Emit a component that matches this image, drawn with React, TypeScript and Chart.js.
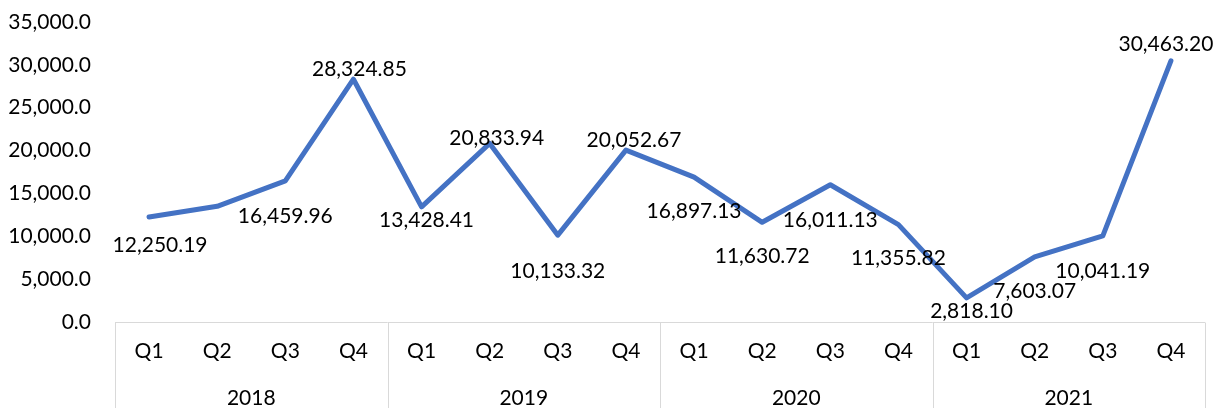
import React, { useEffect, useRef } from "react";
import { Chart, registerables } from "chart.js";

Chart.register(...registerables);

const QUARTERS = ["Q1", "Q2", "Q3", "Q4", "Q1", "Q2", "Q3", "Q4", "Q1", "Q2", "Q3", "Q4", "Q1", "Q2", "Q3", "Q4"];
const YEARS = ["2018", "2019", "2020", "2021"];
const VALUES = [
  12250.19, 13500, 16459.96, 28324.85,
  13428.41, 20833.94, 10133.32, 20052.67,
  16897.13, 11630.72, 16011.13, 11355.82,
  2818.1, 7603.07, 10041.19, 30463.2,
];
const SHOW_LABEL = [true, false, true, true, true, true, true, true, true, true, true, true, true, true, true, true];
const Y_TICKS_MAX = 35000;
const Y_TICKS_STEP = 5000;

// label placement (style): [dx, dy] relative to each point
const LABEL_OFFSETS: [number, number][] = [
  [11, 28], [0, 0], [0, 35], [6, -10],
  [5, 13], [7, -5], [0, 36], [8, -10],
  [0, 34], [0, 34], [0, 35], [0, 34],
  [5, 13], [0, 34], [0, 35], [-5, -17],
];

const FONT_FAMILY = "Lato, 'Open Sans', sans-serif";
const FONT_SIZE = 21;
const LINE_COLOR = "#4472C4";
const GRID_COLOR = "#D9D9D9";

const fmt2 = (v: number) =>
  v.toLocaleString("en-US", { minimumFractionDigits: 2, maximumFractionDigits: 2 });
const fmt1 = (v: number) =>
  v.toLocaleString("en-US", { minimumFractionDigits: 1, maximumFractionDigits: 1 });

const labelsPlugin = {
  id: "pointLabels",
  afterDatasetsDraw(chart: any) {
    const ctx = chart.ctx;
    const meta = chart.getDatasetMeta(0);
    ctx.save();
    ctx.font = `${FONT_SIZE}px ${FONT_FAMILY}`;
    ctx.fillStyle = "#000000";
    ctx.textAlign = "center";
    ctx.textBaseline = "middle";
    meta.data.forEach((pt: any, i: number) => {
      if (!SHOW_LABEL[i]) return;
      const [dx, dy] = LABEL_OFFSETS[i];
      ctx.fillText(fmt2(VALUES[i]), pt.x + dx, pt.y + dy);
    });
    ctx.restore();
  },
};

const axisBoxPlugin = {
  id: "axisBox",
  afterDraw(chart: any) {
    const ctx = chart.ctx;
    const area = chart.chartArea;
    const h = chart.height;
    ctx.save();
    ctx.strokeStyle = GRID_COLOR;
    ctx.lineWidth = 1;
    ctx.beginPath();
    const yb = Math.round(area.bottom) + 0.5;
    ctx.moveTo(area.left, yb);
    ctx.lineTo(area.right, yb);
    const groupW = (area.right - area.left) / YEARS.length;
    for (let k = 0; k <= YEARS.length; k++) {
      const x = Math.round(area.left + k * groupW) + 0.5;
      ctx.moveTo(x, yb);
      ctx.lineTo(x, h);
    }
    ctx.stroke();
    ctx.font = `${FONT_SIZE}px ${FONT_FAMILY}`;
    ctx.fillStyle = "#000000";
    ctx.textAlign = "center";
    ctx.textBaseline = "middle";
    YEARS.forEach((y, k) => {
      ctx.fillText(y, area.left + (k + 0.5) * groupW, area.bottom + 76);
    });
    ctx.restore();
  },
};

export default function App() {
  const ref = useRef<HTMLCanvasElement>(null);
  useEffect(() => {
    if (!ref.current) return;
    const chart = new Chart(ref.current, {
      type: "line",
      data: {
        labels: QUARTERS,
        datasets: [
          {
            data: VALUES,
            borderColor: LINE_COLOR,
            backgroundColor: LINE_COLOR,
            borderWidth: 5,
            borderJoinStyle: "round",
            borderCapStyle: "round",
            pointRadius: 0,
            tension: 0,
          },
        ],
      },
      options: {
        animation: false,
        responsive: true,
        maintainAspectRatio: false,
        layout: { padding: { left: 0, top: 22, right: 9, bottom: 0 } },
        plugins: { legend: { display: false }, tooltip: { enabled: false } },
        scales: {
          x: {
            type: "category",
            offset: true,
            grid: { display: false, drawTicks: false },
            border: { display: false },
            ticks: {
              color: "#000000",
              font: { family: FONT_FAMILY, size: FONT_SIZE },
              padding: 17,
              maxRotation: 0,
              autoSkip: false,
            },
            afterFit: (s: any) => {
              s.height = 86;
              s.paddingLeft = 0;
              s.paddingRight = 0;
            },
          },
          y: {
            min: 0,
            max: Y_TICKS_MAX,
            grid: { display: false, drawTicks: false },
            border: { display: false },
            ticks: {
              stepSize: Y_TICKS_STEP,
              color: "#000000",
              font: { family: FONT_FAMILY, size: FONT_SIZE },
              padding: 24,
              callback: (v: any) => fmt1(Number(v)),
            },
            afterFit: (s: any) => {
              s.width = 115;
              s.paddingTop = 0;
              s.paddingBottom = 0;
            },
          },
        },
      },
      plugins: [labelsPlugin, axisBoxPlugin],
    });
    return () => chart.destroy();
  }, []);
  return (
    <div style={{ position: "fixed", left: 0, top: 0, width: 1214, height: 408, background: "#fff" }}>
      <canvas ref={ref} />
    </div>
  );
}
